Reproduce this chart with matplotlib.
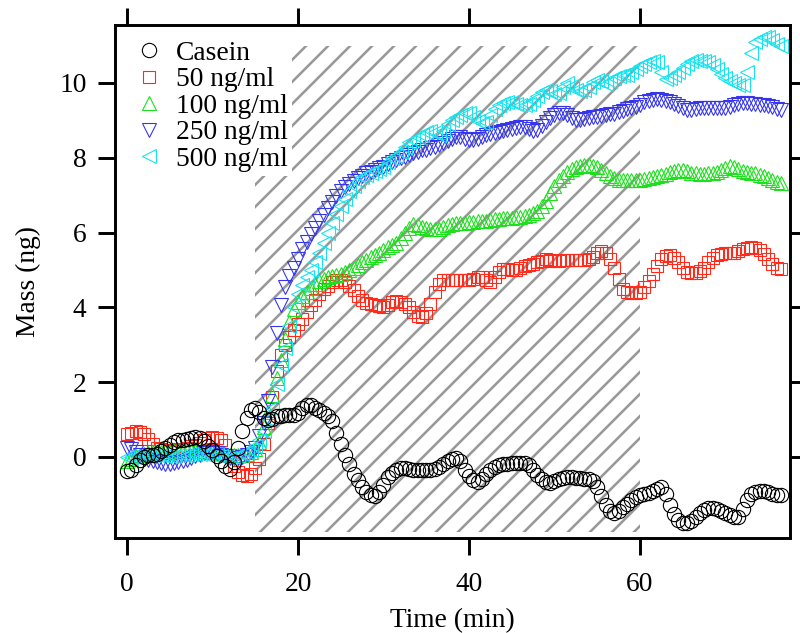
from __future__ import annotations

import numpy as np
import matplotlib

matplotlib.use("Agg")

from matplotlib import pyplot as plt
from matplotlib.patches import Rectangle


# sampling every 0.5 min, 0 .. 76.5 min
TIME_STEP_MIN = 0.5
N_SAMPLES = 154

CASEIN = [
    -0.38, -0.35, -0.22, -0.08, 0.0, 0.04, 0.06, 0.08, 0.15, 0.23,
    0.32, 0.4, 0.44, 0.46, 0.48, 0.5, 0.52, 0.5, 0.42, 0.3,
    0.18, 0.02, -0.12, -0.25, -0.33, -0.15, 0.25, 0.7, 1.05, 1.25,
    1.3, 1.2, 1.05, 0.98, 1.02, 1.08, 1.1, 1.12, 1.12, 1.13,
    1.18, 1.3, 1.38, 1.38, 1.32, 1.25, 1.18, 1.1, 0.95, 0.65,
    0.35, 0.05, -0.2, -0.45, -0.62, -0.8, -0.95, -1.03, -1.05, -0.95,
    -0.75, -0.55, -0.42, -0.35, -0.3, -0.3, -0.33, -0.35, -0.36, -0.36,
    -0.35, -0.35, -0.33, -0.28, -0.2, -0.12, -0.05, -0.03, -0.12, -0.35,
    -0.52, -0.62, -0.66, -0.6, -0.47, -0.35, -0.27, -0.22, -0.2, -0.18,
    -0.17, -0.16, -0.16, -0.16, -0.22, -0.35, -0.48, -0.58, -0.68, -0.7,
    -0.65, -0.58, -0.56, -0.55, -0.55, -0.56, -0.56, -0.58, -0.6, -0.65,
    -0.8, -1.05, -1.3, -1.45, -1.5, -1.45, -1.35, -1.25, -1.15, -1.07,
    -1.02, -1.0, -0.97, -0.92, -0.85, -0.8, -1.0, -1.3, -1.52, -1.68,
    -1.77, -1.78, -1.72, -1.6, -1.5, -1.43, -1.38, -1.37, -1.4, -1.45,
    -1.5, -1.56, -1.62, -1.6, -1.4, -1.15, -1.0, -0.95, -0.92, -0.92,
    -0.95, -1.0, -1.02, -1.02,
]

NG50 = [
    0.6, 0.65, 0.68, 0.66, 0.6, 0.48, 0.35, 0.25, 0.2, 0.18,
    0.17, 0.18, 0.2, 0.22, 0.25, 0.28, 0.32, 0.38, 0.44, 0.5,
    0.52, 0.5, 0.44, 0.32, 0.05, -0.25, -0.4, -0.48, -0.5, -0.45,
    -0.3, -0.05, 0.35, 0.9, 1.6, 2.3, 2.72, 3.0, 3.2, 3.4,
    3.55, 3.7, 3.88, 4.05, 4.2, 4.35, 4.48, 4.58, 4.67, 4.72,
    4.72, 4.68, 4.58, 4.45, 4.3, 4.2, 4.12, 4.08, 4.05, 4.03,
    4.02, 4.06, 4.15, 4.18, 4.15, 4.08, 4.0, 3.88, 3.78, 3.75,
    3.85, 4.1, 4.4, 4.62, 4.72, 4.74, 4.74, 4.73, 4.72, 4.72,
    4.72, 4.75, 4.8, 4.8, 4.72, 4.68, 4.8, 4.95, 5.02, 5.02,
    5.0, 5.0, 5.05, 5.1, 5.12, 5.15, 5.2, 5.25, 5.3, 5.27,
    5.25, 5.25, 5.26, 5.27, 5.27, 5.27, 5.26, 5.26, 5.28, 5.35,
    5.45, 5.5, 5.45, 5.3, 5.05, 4.75, 4.5, 4.4, 4.37, 4.38,
    4.42, 4.55, 4.7, 4.9, 5.1, 5.28, 5.38, 5.4, 5.32, 5.2,
    5.05, 4.95, 4.92, 4.92, 4.97, 5.05, 5.2, 5.32, 5.4, 5.42,
    5.44, 5.45, 5.46, 5.5, 5.55, 5.58, 5.6, 5.58, 5.52, 5.42,
    5.3, 5.15, 5.05, 5.03,
]

NG100 = [
    -0.12, -0.05, 0.02, 0.06, 0.08, 0.1, 0.12, 0.12, 0.12, 0.13,
    0.14, 0.15, 0.15, 0.16, 0.17, 0.17, 0.17, 0.16, 0.15, 0.14,
    0.13, 0.12, 0.1, 0.08, 0.06, 0.05, 0.05, 0.06, 0.08, 0.12,
    0.2, 0.4, 0.8, 1.2, 1.65, 2.1, 2.6, 3.15, 3.6, 3.95,
    4.15, 4.3, 4.42, 4.52, 4.62, 4.7, 4.76, 4.8, 4.83, 4.87,
    4.9, 4.95, 5.0, 5.06, 5.12, 5.2, 5.27, 5.35, 5.4, 5.45,
    5.52, 5.6, 5.66, 5.72, 5.85, 6.0, 6.12, 6.22, 6.2, 6.15,
    6.12, 6.1, 6.1, 6.1, 6.15, 6.2, 6.24, 6.25, 6.25, 6.26,
    6.27, 6.28, 6.3, 6.3, 6.32, 6.34, 6.36, 6.37, 6.39, 6.4,
    6.4, 6.41, 6.42, 6.44, 6.48, 6.52, 6.58, 6.7, 6.85, 7.05,
    7.25, 7.4, 7.52, 7.62, 7.7, 7.75, 7.78, 7.8, 7.8, 7.78,
    7.74, 7.68, 7.6, 7.52, 7.45, 7.41, 7.4, 7.4, 7.4, 7.4,
    7.41, 7.43, 7.45, 7.48, 7.5, 7.53, 7.57, 7.61, 7.65, 7.67,
    7.66, 7.64, 7.6, 7.58, 7.57, 7.57, 7.58, 7.6, 7.62, 7.67,
    7.73, 7.78, 7.76, 7.7, 7.65, 7.62, 7.6, 7.58, 7.55, 7.5,
    7.45, 7.4, 7.36, 7.32,
]

NG250 = [
    0.25, 0.2, 0.12, 0.05, -0.02, -0.08, -0.12, -0.15, -0.17, -0.18,
    -0.18, -0.17, -0.15, -0.12, -0.08, -0.03, 0.02, 0.06, 0.1, 0.12,
    0.12, 0.1, 0.06, 0.02, -0.02, -0.03, -0.02, 0.0, 0.05, 0.12,
    0.25, 0.55, 0.9, 1.5, 2.4, 3.3, 4.05, 4.55, 4.85, 5.05,
    5.3, 5.55, 5.75, 5.95, 6.12, 6.3, 6.48, 6.65, 6.82, 6.97,
    7.1, 7.22, 7.3, 7.38, 7.45, 7.52, 7.58, 7.63, 7.68, 7.72,
    7.76, 7.82, 7.88, 7.93, 7.98, 8.03, 8.08, 8.12, 8.16, 8.2,
    8.22, 8.26, 8.3, 8.35, 8.4, 8.45, 8.5, 8.55, 8.55, 8.5,
    8.48, 8.48, 8.5, 8.55, 8.6, 8.64, 8.66, 8.7, 8.72, 8.75,
    8.78, 8.8, 8.82, 8.82, 8.78, 8.72, 8.75, 8.85, 8.95, 9.05,
    9.15, 9.2, 9.2, 9.15, 9.05, 9.0, 9.0, 9.03, 9.06, 9.08,
    9.1, 9.12, 9.14, 9.16, 9.18, 9.22, 9.26, 9.3, 9.33, 9.37,
    9.42, 9.48, 9.52, 9.55, 9.56, 9.55, 9.52, 9.5, 9.45, 9.38,
    9.32, 9.28, 9.28, 9.3, 9.32, 9.33, 9.33, 9.33, 9.32, 9.32,
    9.33, 9.35, 9.4, 9.45, 9.47, 9.47, 9.45, 9.43, 9.41, 9.4,
    9.38, 9.35, 9.3, 9.28,
]

NG500 = [
    0.0, 0.0, 0.02, 0.04, 0.05, 0.06, 0.06, 0.05, 0.04, 0.03,
    0.03, 0.03, 0.04, 0.05, 0.06, 0.07, 0.08, 0.08, 0.08, 0.07,
    0.06, 0.04, 0.02, 0.0, -0.02, 0.0, 0.03, 0.08, 0.12, 0.18,
    0.28, 0.45, 0.7, 1.0, 1.3, 1.95, 2.45, 2.9, 3.5, 4.0,
    4.35, 4.6, 4.8, 5.0, 5.2, 5.45, 5.72, 6.0, 6.25, 6.5,
    6.72, 6.9, 7.1, 7.25, 7.38, 7.48, 7.55, 7.6, 7.65, 7.7,
    7.75, 7.88, 7.98, 8.05, 8.15, 8.3, 8.42, 8.48, 8.55, 8.62,
    8.68, 8.72, 8.7, 8.62, 8.72, 8.9, 9.0, 9.08, 9.15, 9.2,
    9.2, 9.1, 8.98, 8.92, 8.95, 9.15, 9.3, 9.4, 9.46, 9.48,
    9.48, 9.45, 9.42, 9.4, 9.45, 9.55, 9.65, 9.75, 9.8, 9.78,
    9.7, 9.72, 9.9, 10.0, 9.92, 9.82, 9.78, 9.8, 9.9, 10.02,
    10.08, 10.05, 9.98, 10.05, 10.12, 10.18, 10.2, 10.2, 10.28, 10.38,
    10.45, 10.52, 10.57, 10.6, 10.55, 10.3, 10.1, 10.12, 10.2, 10.28,
    10.4, 10.52, 10.6, 10.62, 10.6, 10.58, 10.55, 10.48, 10.38, 10.25,
    10.12, 10.05, 10.0, 9.95, 9.95, 10.3, 10.8, 11.1, 11.18, 11.22,
    11.24, 11.15, 11.05, 11.0,
]

# hatched window (min) and its vertical extent (ng)
WINDOW_START, WINDOW_END = 15, 60
WINDOW_BOTTOM, WINDOW_TOP = -2.0, 11.0

SERIES = [
    ("50 ng/ml", NG50, "s", "#ff2a1a"),
    ("100 ng/ml", NG100, "^", "#1be01b"),
    ("250 ng/ml", NG250, "v", "#3535ee"),
    ("500 ng/ml", NG500, "<", "#16e3ef"),
    ("Casein", CASEIN, "o", "#000000"),
]
LEGEND_ORDER = ["Casein", "50 ng/ml", "100 ng/ml", "250 ng/ml", "500 ng/ml"]

DPI = 132
FRAME_LW = 1.6


def plot(output_path: str) -> None:
    plt.rcParams["font.family"] = ["Liberation Serif", "DejaVu Serif"]
    plt.rcParams["font.size"] = 15
    plt.rcParams["hatch.linewidth"] = 1.4

    time = np.arange(N_SAMPLES) * TIME_STEP_MIN

    fig = plt.figure(figsize=(800 / DPI, 633 / DPI), dpi=DPI)
    ax = fig.add_axes([115 / 800, 1 - 538 / 633, 675 / 800, 513 / 633])

    # '//' gives 22 px line spacing at this dpi, like the original
    ax.add_patch(
        Rectangle(
            (WINDOW_START, WINDOW_BOTTOM),
            WINDOW_END - WINDOW_START,
            WINDOW_TOP - WINDOW_BOTTOM,
            facecolor="none",
            edgecolor="#999999",
            hatch="//",
            linewidth=0,
            zorder=0,
        )
    )

    handles = {}
    for label, values, marker, color in SERIES:
        assert len(values) == N_SAMPLES, label
        (line,) = ax.plot(
            time,
            values,
            linestyle="none",
            marker=marker,
            markersize=7.8 if marker != "s" else 7.0,
            markerfacecolor="none",
            markeredgecolor=color,
            markeredgewidth=0.6,
            label=label,
        )
        handles[label] = line

    ax.set_xlim(-1.4, 77.55)
    ax.set_ylim(-2.17, 11.55)
    ax.set_xticks([0, 20, 40, 60])
    ax.set_yticks([0, 2, 4, 6, 8, 10])

    for spine in ax.spines.values():
        spine.set_linewidth(FRAME_LW)
    ax.tick_params(
        which="major", direction="out", length=9.5, width=FRAME_LW,
        top=True, right=True, labeltop=False, labelright=False,
    )
    ax.tick_params(axis="x", pad=9)
    ax.tick_params(axis="y", pad=6)

    ax.set_xlabel("Time (min)", labelpad=6)
    ax.set_ylabel("Mass (ng)", labelpad=10)

    leg = ax.legend(
        [handles[name] for name in LEGEND_ORDER],
        LEGEND_ORDER,
        loc="upper left",
        bbox_to_anchor=(0.0, 1.005),
        frameon=True,
        fancybox=False,
        framealpha=1.0,
        edgecolor="none",
        facecolor="white",
        handlelength=1.2,
        handletextpad=0.35,
        labelspacing=0.05,
        borderpad=0.15,
        numpoints=1,
    )
    leg.set_zorder(5)

    fig.savefig(output_path, dpi=DPI)


def main() -> None:
    plot("out.png")


if __name__ == "__main__":
    main()
